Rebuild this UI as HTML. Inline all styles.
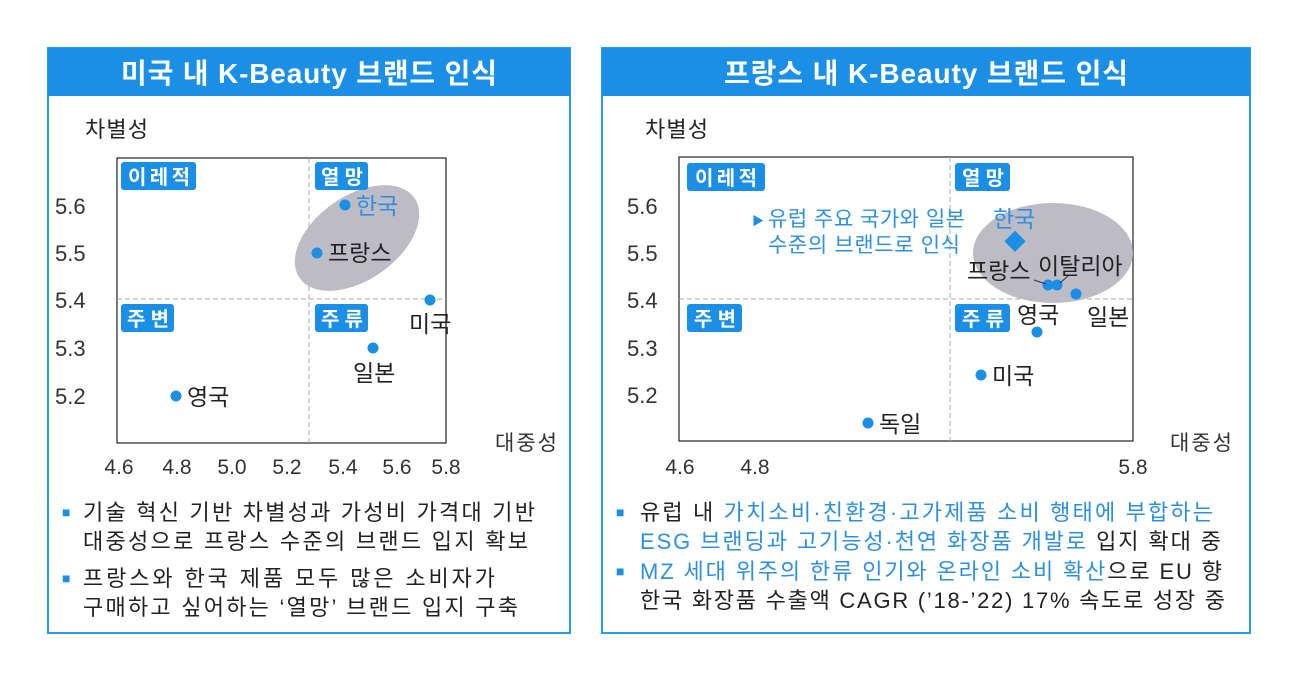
<!DOCTYPE html>
<html><head><meta charset="utf-8"><style>
body{margin:0;background:#fff;}
svg text{font-family:"Liberation Sans","Noto Sans CJK KR",sans-serif;}
</style></head><body>
<svg width="1301" height="681" viewBox="0 0 1301 681" xmlns="http://www.w3.org/2000/svg">
<!-- LEFT PANEL -->
<rect x="48" y="48" width="522" height="585" fill="#fff" stroke="#2b9ae8" stroke-width="2"/>
<rect x="48" y="48" width="522" height="48" fill="#1b8fe6"/>
<text x="309" y="83" font-size="28" font-weight="bold" fill="#fff" text-anchor="middle" textLength="376" lengthAdjust="spacing">미국 내 K-Beauty 브랜드 인식</text>
<text x="85" y="137" font-size="22" fill="#222" textLength="63">차별성</text>
<rect x="117" y="158" width="329" height="285" fill="none" stroke="#222" stroke-width="1.2"/>
<line x1="309" y1="158" x2="309" y2="443" stroke="#aaa" stroke-dasharray="5,3"/>
<line x1="117" y1="299" x2="446" y2="299" stroke="#aaa" stroke-dasharray="5,3"/>
<ellipse cx="357" cy="238" rx="70" ry="42" transform="rotate(-35 357 238)" fill="#bdbcc4"/>
<g font-size="20" font-weight="bold" fill="#fff">
<rect x="121" y="162" width="75" height="28" rx="3" fill="#1b8fe6"/><text x="128" y="184" textLength="62">이레적</text>
<rect x="315" y="162" width="53" height="28" rx="3" fill="#1b8fe6"/><text x="321" y="184" textLength="42">열망</text>
<rect x="121" y="304" width="53" height="28" rx="3" fill="#1b8fe6"/><text x="127" y="326" textLength="42">주변</text>
<rect x="315" y="304" width="53" height="28" rx="3" fill="#1b8fe6"/><text x="321" y="326" textLength="42">주류</text>
</g>
<g font-size="22" fill="#333">
<text x="55" y="214">5.6</text><text x="55" y="261">5.5</text><text x="55" y="308">5.4</text><text x="55" y="356">5.3</text><text x="55" y="404">5.2</text>
</g>
<g font-size="21" fill="#333" text-anchor="middle">
<text x="119" y="474">4.6</text><text x="177" y="474">4.8</text><text x="232" y="474">5.0</text><text x="287" y="474">5.2</text><text x="343" y="474">5.4</text><text x="397" y="474">5.6</text><text x="446" y="474">5.8</text>
</g>
<text x="495" y="450" font-size="21" fill="#333" textLength="62">대중성</text>
<g fill="#1b8fe6">
<circle cx="345" cy="205" r="5.5"/><circle cx="317" cy="253" r="5.5"/><circle cx="430" cy="300" r="5.5"/><circle cx="373" cy="348" r="5.5"/><circle cx="176" cy="396" r="5.5"/>
</g>
<g font-size="23" fill="#222">
<text x="356" y="214" fill="#2f8fdf">한국</text>
<text x="328" y="261">프랑스</text>
<text x="409" y="332">미국</text>
<text x="353" y="381">일본</text>
<text x="187" y="405">영국</text>
</g>
<g font-size="22" fill="#222">
<text x="62" y="517" fill="#1b8fe6" font-size="14">■</text>
<text x="83" y="520" textLength="452" lengthAdjust="spacing">기술 혁신 기반 차별성과 가성비 가격대 기반</text>
<text x="83" y="549" textLength="445" lengthAdjust="spacing">대중성으로 프랑스 수준의 브랜드 입지 확보</text>
<text x="62" y="583" fill="#1b8fe6" font-size="14">■</text>
<text x="83" y="586" textLength="412" lengthAdjust="spacing">프랑스와 한국 제품 모두 많은 소비자가</text>
<text x="83" y="615" textLength="435" lengthAdjust="spacing">구매하고 싶어하는 ‘열망’ 브랜드 입지 구축</text>
</g>

<!-- RIGHT PANEL -->
<rect x="602" y="48" width="648" height="585" fill="#fff" stroke="#2b9ae8" stroke-width="2"/>
<rect x="602" y="48" width="648" height="48" fill="#1b8fe6"/>
<text x="926" y="83" font-size="28" font-weight="bold" fill="#fff" text-anchor="middle" textLength="404" lengthAdjust="spacing">프랑스 내 K-Beauty 브랜드 인식</text>
<text x="645" y="137" font-size="22" fill="#222" textLength="63">차별성</text>
<rect x="679" y="157" width="454" height="284" fill="none" stroke="#222" stroke-width="1.2"/>
<line x1="950" y1="157" x2="950" y2="441" stroke="#aaa" stroke-dasharray="5,3"/>
<line x1="679" y1="299" x2="1133" y2="299" stroke="#aaa" stroke-dasharray="5,3"/>
<ellipse cx="1053" cy="253" rx="80" ry="50" fill="#bdbcc4"/>
<g font-size="20" font-weight="bold" fill="#fff">
<rect x="687" y="163" width="78" height="28" rx="3" fill="#1b8fe6"/><text x="695" y="185" textLength="62">이레적</text>
<rect x="955" y="163" width="55" height="28" rx="3" fill="#1b8fe6"/><text x="962" y="185" textLength="42">열망</text>
<rect x="687" y="304" width="55" height="28" rx="3" fill="#1b8fe6"/><text x="694" y="326" textLength="42">주변</text>
<rect x="955" y="304" width="55" height="28" rx="3" fill="#1b8fe6"/><text x="962" y="326" textLength="42">주류</text>
</g>
<g font-size="22" fill="#333">
<text x="627" y="214">5.6</text><text x="627" y="261">5.5</text><text x="627" y="308">5.4</text><text x="627" y="356">5.3</text><text x="627" y="403">5.2</text>
</g>
<g font-size="21" fill="#333" text-anchor="middle">
<text x="680" y="474">4.6</text><text x="755" y="474">4.8</text><text x="1133" y="474">5.8</text>
</g>
<text x="1170" y="450" font-size="21" fill="#333" textLength="62">대중성</text>
<text x="752" y="225" font-size="12" fill="#1b8fe6">▶</text>
<text x="768" y="226" font-size="21" fill="#2f8fdf" textLength="197" lengthAdjust="spacing">유럽 주요 국가와 일본</text>
<text x="768" y="252" font-size="21" fill="#2f8fdf" textLength="192" lengthAdjust="spacing">수준의 브랜드로 인식</text>
<rect x="1007" y="234" width="15" height="15" fill="#1b8fe6" transform="rotate(45 1015 242)"/>
<g fill="#1b8fe6">
<circle cx="1048" cy="285" r="5.5"/><circle cx="1057" cy="285" r="5.5"/><circle cx="1076" cy="294" r="5.5"/><circle cx="1037" cy="332" r="5.5"/><circle cx="981" cy="375" r="5.5"/><circle cx="868" cy="423" r="5.5"/>
</g>
<line x1="1034" y1="280" x2="1046" y2="284" stroke="#333"/>
<line x1="1068" y1="276" x2="1060" y2="283" stroke="#333"/>
<g font-size="23" fill="#222">
<text x="993" y="227" fill="#2f8fdf">한국</text>
<text x="967" y="279">프랑스</text>
<text x="1038" y="274">이탈리아</text>
<text x="1017" y="323">영국</text>
<text x="1087" y="325">일본</text>
<text x="992" y="384">미국</text>
<text x="879" y="432">독일</text>
</g>
<g font-size="22" fill="#222">
<text x="616" y="517" fill="#1b8fe6" font-size="14">■</text>
<text x="640" y="520" textLength="573" lengthAdjust="spacing">유럽 내 <tspan fill="#2f8fdf">가치소비·친환경·고가제품 소비 행태에 부합하는</tspan></text>
<text x="640" y="549" textLength="581" lengthAdjust="spacing"><tspan fill="#2f8fdf">ESG 브랜딩과 고기능성·천연 화장품 개발로</tspan> 입지 확대 중</text>
<text x="616" y="576" fill="#1b8fe6" font-size="14">■</text>
<text x="640" y="579" textLength="582" lengthAdjust="spacing"><tspan fill="#2f8fdf">MZ 세대 위주의 한류 인기와 온라인 소비 확산</tspan>으로 EU 향</text>
<text x="640" y="608" textLength="585" lengthAdjust="spacing">한국 화장품 수출액 CAGR (’18-’22) 17% 속도로 성장 중</text>
</g>
</svg>
</body></html>
